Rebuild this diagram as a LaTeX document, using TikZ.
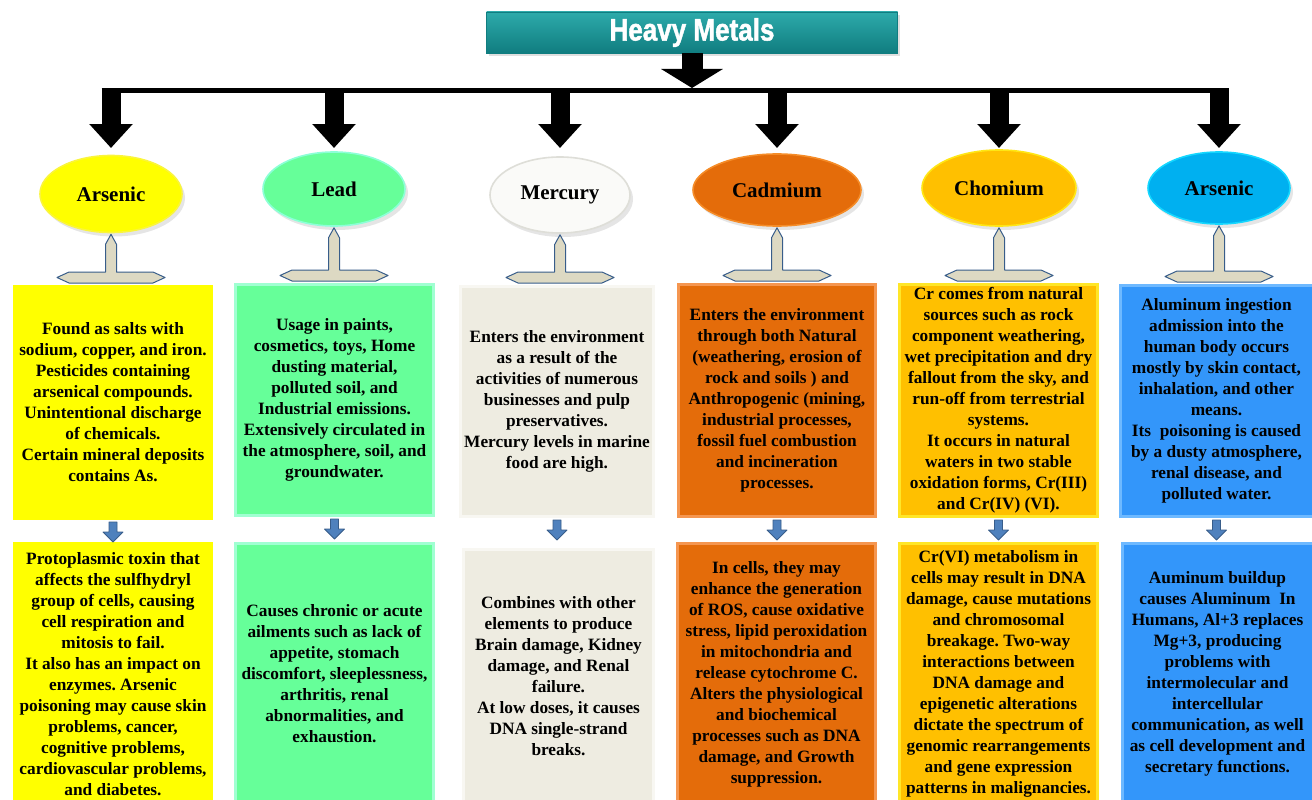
\documentclass[tikz,border=0pt]{standalone}
\usepackage{fontspec}
\setmainfont{Liberation Serif}
\newfontfamily\titlefont{Liberation Sans}[BoldFeatures={FakeBold=1.6}]
\usetikzlibrary{shapes.geometric,arrows.meta,shadows,calc}

\definecolor{tealA}{RGB}{45,170,170}
\definecolor{tealB}{RGB}{16,125,128}
\definecolor{tfill}{RGB}{221,217,195}
\definecolor{tline}{RGB}{56,93,138}
\definecolor{sfill}{RGB}{79,129,189}
\definecolor{sline}{RGB}{56,93,138}
\definecolor{yelF}{RGB}{255,255,0}
\definecolor{grnF}{RGB}{102,255,153}
\definecolor{grnB}{RGB}{160,255,210}
\definecolor{merF}{RGB}{238,236,225}
\definecolor{merB}{RGB}{248,247,242}
\definecolor{cadF}{RGB}{228,108,10}
\definecolor{cadB}{RGB}{245,150,80}
\definecolor{chrF}{RGB}{255,192,0}
\definecolor{chrB}{RGB}{255,230,40}
\definecolor{bluF}{RGB}{51,150,250}
\definecolor{bluB}{RGB}{110,185,255}
\definecolor{eA}{RGB}{250,245,60}
\definecolor{eB}{RGB}{140,255,215}
\definecolor{eCf}{RGB}{250,250,248}
\definecolor{eC}{RGB}{222,222,216}
\definecolor{eD}{RGB}{245,140,40}
\definecolor{eE}{RGB}{255,230,20}
\definecolor{eFf}{RGB}{0,176,240}
\definecolor{eF}{RGB}{20,215,255}

\newcommand\Tconn[2]{%
  \draw[tcon] let \p1=(#1.south), \p2=(#2.north) in
   (\x1-54pt,\y2+7.5pt) -- (\x1-42pt,\y2+13pt) -- (\x1-5.5pt,\y2+13pt)
   -- (\x1-5.5pt,\y1-11pt) -- (\x1,\y1-1pt) -- (\x1+5.5pt,\y1-11pt)
   -- (\x1+5.5pt,\y2+13pt) -- (\x1+42pt,\y2+13pt) -- (\x1+54pt,\y2+7.5pt)
   -- (\x1+42pt,\y2+2pt) -- (\x1-42pt,\y2+2pt) -- cycle;}
\newcommand\Sarrow[2]{%
  \draw[sarrow] let \p1=(#1.south), \p2=(#2.north) in
   (\x1-4pt,\y1-2pt) -- (\x1+4pt,\y1-2pt) -- (\x1+4pt,\y1-12pt)
   -- (\x1+10pt,\y1-12pt) -- (\x1,\y1-22pt) -- (\x1-10pt,\y1-12pt)
   -- (\x1-4pt,\y1-12pt) -- cycle;}

\begin{document}
\frenchspacing
\begin{tikzpicture}[x=1pt,y=-1pt,
  txt/.style={font=\fontsize{17.3}{21}\selectfont\bfseries, align=center, text=black},
  box/.style={rectangle, inner sep=0pt, line width=3pt, txt},
  oval/.style={ellipse, inner sep=0pt, line width=1.6pt,
    font=\fontsize{21}{24}\selectfont\bfseries,
    drop shadow={opacity=0.2,shadow xshift=3pt,shadow yshift=-4pt}},
  bigarrow/.style={line width=19pt, -{Triangle[width=42pt,length=24pt]}},
  tcon/.style={fill=tfill, draw=tline, line width=1pt, line join=round},
  sarrow/.style={fill=sfill, draw=sline, line width=0.8pt, line join=round},
]
\useasboundingbox (0,0) rectangle (1312,800);
\fill[white] (0,0) rectangle (1312,800);
\clip (0,0) rectangle (1312,800);

% title
\node[rectangle, minimum width=411pt, minimum height=41pt, inner sep=0pt,
      top color=tealA, bottom color=tealB, draw=tealB, line width=0.6pt,
      drop shadow={opacity=0.25,shadow xshift=2pt,shadow yshift=-3pt}]
  (title) at (692,32.5)
  {\scalebox{0.84}[1]{\titlefont\bfseries\fontsize{31}{34}\selectfont\color{white}Heavy Metals}};

\coordinate (bar) at (0,90.5);
\coordinate (tips) at (0,148);

% ellipses
\node[oval, fill=yelF, draw=eA, minimum width=142pt, minimum height=77pt] (e1) at (111,194) {Arsenic};
\node[oval, fill=grnF, draw=eB, minimum width=142pt, minimum height=74pt] (e2) at (334,189) {Lead};
\node[oval, fill=eCf, draw=eC, minimum width=140pt, minimum height=76pt] (e3) at (560,195) {Mercury};
\node[oval, fill=cadF, draw=eD, minimum width=168pt, minimum height=72pt] (e4) at (777,190) {Cadmium};
\node[oval, fill=chrF, draw=eE, minimum width=154pt, minimum height=76pt] (e5) at (999,188) {Chomium};
\node[oval, fill=eFf, draw=eF, minimum width=142pt, minimum height=72pt] (e6) at (1219,188) {Arsenic};

% arrows from title to bar and bar to ellipses
\draw[line width=21pt, -{Triangle[width=61pt,length=19pt]}] (title.south) -- ([yshift=2.5pt]title.south |- bar);
\draw[line width=5pt] ([xshift=-9.5pt]e1.north |- bar) -- ([xshift=9.5pt]e6.north |- bar);
\foreach \e in {e1,e2,e3,e4,e5,e6}
  \draw[bigarrow] ([yshift=2.5pt]\e.north |- bar) -- (\e.north |- tips);

% first row boxes
\node[box, fill=yelF, draw=yelF, minimum width=197pt, minimum height=232pt] (b1) at (113,402.5)
 {Found as salts with\\sodium, copper, and iron.\\Pesticides containing\\arsenical compounds.\\Unintentional discharge\\of chemicals.\\Certain mineral deposits\\contains As.};
\node[box, fill=grnF, draw=grnB, minimum width=198pt, minimum height=231pt] (b2) at (334.5,400)
 {Usage in paints,\\cosmetics, toys, Home\\dusting material,\\polluted soil, and\\Industrial emissions.\\Extensively circulated in\\the atmosphere, soil, and\\groundwater.};
\node[box, fill=merF, draw=merB, minimum width=193pt, minimum height=230pt] (b3) at (557,401.5)
 {Enters the environment\\as a result of the\\activities of numerous\\businesses and pulp\\preservatives.\\Mercury levels in marine\\food are high.};
\node[box, fill=cadF, draw=cadB, minimum width=197pt, minimum height=232pt] (b4) at (777,400.5)
 {Enters the environment\\through both Natural\\(weathering, erosion of\\rock and soils ) and\\Anthropogenic (mining,\\industrial processes,\\fossil fuel combustion\\and incineration\\processes.};
\node[box, fill=chrF, draw=chrB, minimum width=198pt, minimum height=232pt] (b5) at (998.5,400.5)
 {Cr comes from natural\\sources such as rock\\component weathering,\\wet precipitation and dry\\fallout from the sky, and\\run-off from terrestrial\\systems.\\It occurs in natural\\waters in two stable\\oxidation forms, Cr(III)\\and Cr(IV) (VI).};
\node[box, fill=bluF, draw=bluB, minimum width=193pt, minimum height=231pt] (b6) at (1216.5,401)
 {Aluminum ingestion\\admission into the\\human body occurs\\mostly by skin contact,\\inhalation, and other\\means.\\Its\ \ poisoning is caused\\by a dusty atmosphere,\\renal disease, and\\polluted water.};

% second row boxes
\node[box, fill=yelF, draw=yelF, minimum width=197pt, minimum height=262pt] (c1) at (113,674)
 {Protoplasmic toxin that\\affects the sulfhydryl\\group of cells, causing\\cell respiration and\\mitosis to fail.\\It also has an impact on\\enzymes. Arsenic\\poisoning may cause skin\\problems, cancer,\\cognitive problems,\\cardiovascular problems,\\and diabetes.};
\node[box, fill=grnF, draw=grnB, minimum width=198pt, minimum height=262pt] (c2) at (334.5,674)
 {Causes chronic or acute\\ailments such as lack of\\appetite, stomach\\discomfort, sleeplessness,\\arthritis, renal\\abnormalities, and\\exhaustion.};
\node[box, fill=merF, draw=merB, minimum width=190pt, minimum height=255pt] (c3) at (558.5,676.5)
 {Combines with other\\elements to produce\\Brain damage, Kidney\\damage, and Renal\\failure.\\At low doses, it causes\\DNA single-strand\\breaks.};
\node[box, fill=cadF, draw=cadB, minimum width=198pt, minimum height=262pt] (c4) at (776.5,674)
 {In cells, they may\\enhance the generation\\of ROS, cause oxidative\\stress, lipid peroxidation\\in mitochondria and\\release cytochrome C.\\Alters the physiological\\and biochemical\\processes such as DNA\\damage, and Growth\\suppression.};
\node[box, fill=chrF, draw=chrB, minimum width=198pt, minimum height=262pt] (c5) at (998.5,674)
 {Cr(VI) metabolism in\\cells may result in DNA\\damage, cause mutations\\and chromosomal\\breakage. Two-way\\interactions between\\DNA damage and\\epigenetic alterations\\dictate the spectrum of\\genomic rearrangements\\and gene expression\\patterns in malignancies.};
\node[box, fill=bluF, draw=bluB, minimum width=191pt, minimum height=262pt] (c6) at (1217.5,674)
 {Auminum buildup\\causes Aluminum\ \ In\\Humans, Al+3 replaces\\Mg+3, producing\\problems with\\intermolecular and\\intercellular\\communication, as well\\as cell development and\\secretary functions.};

% T connectors
\Tconn{e1}{b1}
\Tconn{e2}{b2}
\Tconn{e3}{b3}
\Tconn{e4}{b4}
\Tconn{e5}{b5}
\Tconn{e6}{b6}

% small arrows
\Sarrow{b1}{c1}
\Sarrow{b2}{c2}
\Sarrow{b3}{c3}
\Sarrow{b4}{c4}
\Sarrow{b5}{c5}
\Sarrow{b6}{c6}
\end{tikzpicture}
\end{document}
